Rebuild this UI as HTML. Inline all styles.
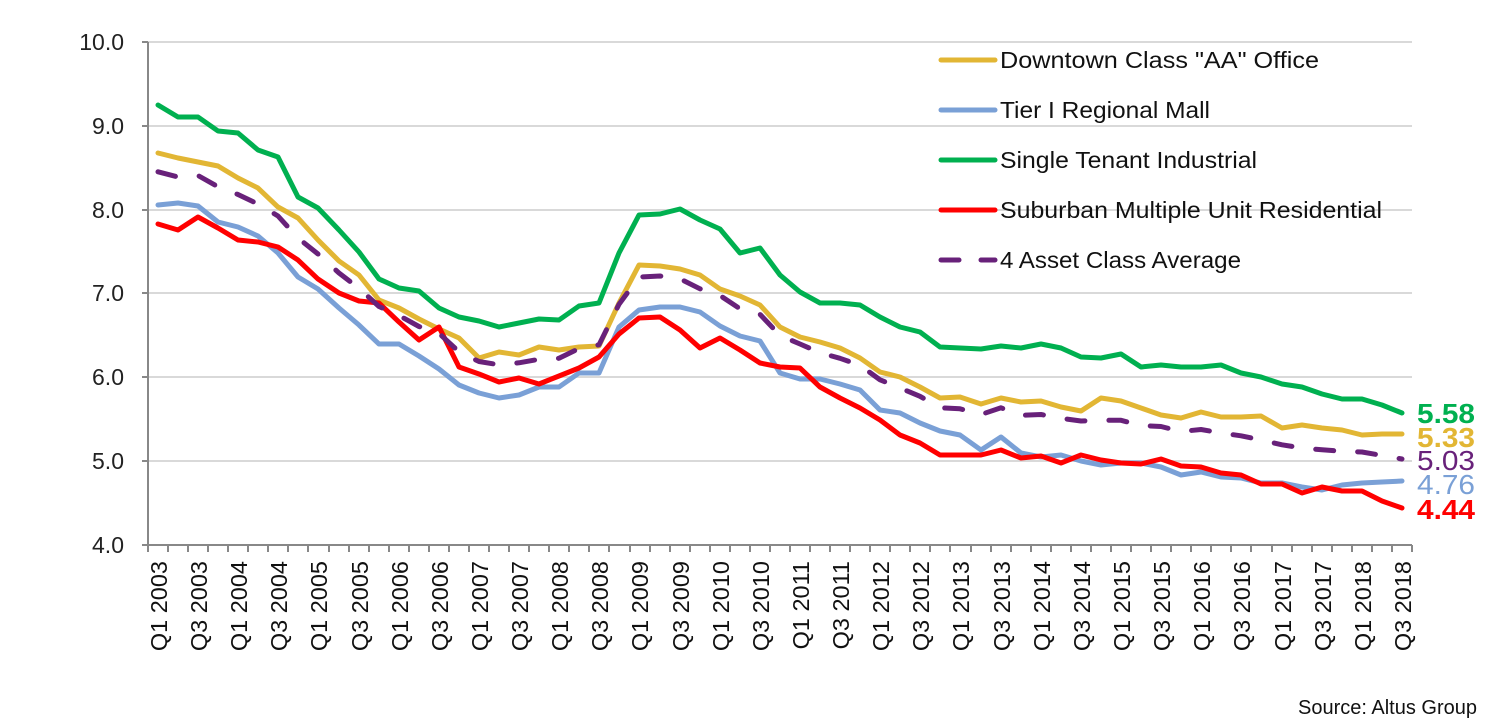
<!DOCTYPE html>
<html><head><meta charset="utf-8"><style>
html,body{margin:0;padding:0;background:#fff;}
svg{display:block;font-family:"Liberation Sans",Arial,sans-serif;}
</style></head><body>
<svg width="1512" height="724" viewBox="0 0 1512 724" xmlns="http://www.w3.org/2000/svg">
<g stroke="#d9d9d9" stroke-width="2">
<line x1="148" y1="42" x2="1412" y2="42"/><line x1="148" y1="126" x2="1412" y2="126"/><line x1="148" y1="210" x2="1412" y2="210"/><line x1="148" y1="293" x2="1412" y2="293"/><line x1="148" y1="377" x2="1412" y2="377"/><line x1="148" y1="461" x2="1412" y2="461"/>
</g>
<g stroke="#888" stroke-width="2" fill="none">
<line x1="148" y1="42" x2="148" y2="546"/><line x1="147" y1="545" x2="1412" y2="545"/>
<path d="M142 42H148M142 126H148M142 210H148M142 293H148M142 377H148M142 461H148M142 545H148"/>
<path d="M148 545v7M168 545v7M188 545v7M208 545v7M228 545v7M248 545v7M268 545v7M288 545v7M308 545v7M329 545v7M349 545v7M369 545v7M389 545v7M409 545v7M429 545v7M449 545v7M469 545v7M489 545v7M509 545v7M529 545v7M549 545v7M569 545v7M589 545v7M609 545v7M630 545v7M650 545v7M670 545v7M690 545v7M710 545v7M730 545v7M750 545v7M770 545v7M790 545v7M810 545v7M830 545v7M850 545v7M870 545v7M890 545v7M910 545v7M930 545v7M950 545v7M971 545v7M991 545v7M1011 545v7M1031 545v7M1051 545v7M1071 545v7M1091 545v7M1111 545v7M1131 545v7M1151 545v7M1171 545v7M1191 545v7M1211 545v7M1231 545v7M1251 545v7M1272 545v7M1292 545v7M1312 545v7M1332 545v7M1352 545v7M1372 545v7M1392 545v7M1412 545v7"/>
</g>
<g font-size="23" fill="#222" text-anchor="end">
<text x="124" y="50">10.0</text><text x="124" y="134">9.0</text><text x="124" y="218">8.0</text><text x="124" y="301">7.0</text><text x="124" y="385">6.0</text><text x="124" y="469">5.0</text><text x="124" y="553">4.0</text>
</g>
<g font-size="23.5" fill="#111" text-anchor="end">
<text transform="translate(167,561) rotate(-90)">Q1 2003</text>
<text transform="translate(207,561) rotate(-90)">Q3 2003</text>
<text transform="translate(247,561) rotate(-90)">Q1 2004</text>
<text transform="translate(287,561) rotate(-90)">Q3 2004</text>
<text transform="translate(327,561) rotate(-90)">Q1 2005</text>
<text transform="translate(368,561) rotate(-90)">Q3 2005</text>
<text transform="translate(408,561) rotate(-90)">Q1 2006</text>
<text transform="translate(448,561) rotate(-90)">Q3 2006</text>
<text transform="translate(488,561) rotate(-90)">Q1 2007</text>
<text transform="translate(528,561) rotate(-90)">Q3 2007</text>
<text transform="translate(568,561) rotate(-90)">Q1 2008</text>
<text transform="translate(608,561) rotate(-90)">Q3 2008</text>
<text transform="translate(648,561) rotate(-90)">Q1 2009</text>
<text transform="translate(689,561) rotate(-90)">Q3 2009</text>
<text transform="translate(729,561) rotate(-90)">Q1 2010</text>
<text transform="translate(769,561) rotate(-90)">Q3 2010</text>
<text transform="translate(809,561) rotate(-90)">Q1 2011</text>
<text transform="translate(849,561) rotate(-90)">Q3 2011</text>
<text transform="translate(889,561) rotate(-90)">Q1 2012</text>
<text transform="translate(929,561) rotate(-90)">Q3 2012</text>
<text transform="translate(969,561) rotate(-90)">Q1 2013</text>
<text transform="translate(1010,561) rotate(-90)">Q3 2013</text>
<text transform="translate(1050,561) rotate(-90)">Q1 2014</text>
<text transform="translate(1090,561) rotate(-90)">Q3 2014</text>
<text transform="translate(1130,561) rotate(-90)">Q1 2015</text>
<text transform="translate(1170,561) rotate(-90)">Q3 2015</text>
<text transform="translate(1210,561) rotate(-90)">Q1 2016</text>
<text transform="translate(1250,561) rotate(-90)">Q3 2016</text>
<text transform="translate(1291,561) rotate(-90)">Q1 2017</text>
<text transform="translate(1331,561) rotate(-90)">Q3 2017</text>
<text transform="translate(1371,561) rotate(-90)">Q1 2018</text>
<text transform="translate(1411,561) rotate(-90)">Q3 2018</text>
</g>
<g fill="none" stroke-width="5" stroke-linejoin="round" stroke-linecap="round">
<polyline stroke="#e2b634" points="158,153 178,158 198,162 218,166 238,178 258,188 278,207 298,218 318,240 339,261 359,275 379,300 399,308 419,319 439,329 459,338 479,358 499,352 519,355 539,347 559,350 579,347 599,346 619,303 639,265 660,266 680,269 700,275 720,289 740,296 760,305 780,327 800,337 820,342 840,348 860,358 880,372 900,377 920,387 940,398 960,397 981,404 1001,398 1021,402 1041,401 1061,407 1081,411 1101,398 1121,401 1141,408 1161,415 1181,418 1201,412 1221,417 1241,417 1261,416 1282,428 1302,425 1322,428 1342,430 1362,435 1382,434 1402,434"/>
<polyline stroke="#7aa0d6" points="158,205 178,203 198,206 218,222 238,227 258,236 278,253 298,277 318,289 339,308 359,325 379,344 399,344 419,356 439,369 459,385 479,393 499,398 519,395 539,387 559,387 579,373 599,373 619,327 639,310 660,307 680,307 700,312 720,326 740,336 760,341 780,373 800,379 820,379 840,384 860,390 880,410 900,413 920,423 940,431 960,435 981,450 1001,437 1021,453 1041,457 1061,455 1081,461 1101,465 1121,463 1141,463 1161,467 1181,475 1201,472 1221,477 1241,478 1261,483 1282,483 1302,487 1322,490 1342,485 1362,483 1382,482 1402,481"/>
<polyline stroke="#00b050" points="158,105 178,117 198,117 218,131 238,133 258,150 278,157 298,197 318,208 339,230 359,252 379,279 399,288 419,291 439,308 459,317 479,321 499,327 519,323 539,319 559,320 579,306 599,303 619,253 639,215 660,214 680,209 700,220 720,229 740,253 760,248 780,275 800,292 820,303 840,303 860,305 880,317 900,327 920,332 940,347 960,348 981,349 1001,346 1021,348 1041,344 1061,348 1081,357 1101,358 1121,354 1141,367 1161,365 1181,367 1201,367 1221,365 1241,373 1261,377 1282,384 1302,387 1322,394 1342,399 1362,399 1382,405 1402,413"/>
<polyline stroke="#ff0000" points="158,224 178,230 198,217 218,228 238,240 258,242 278,247 298,260 318,279 339,293 359,301 379,303 399,322 419,340 439,327 459,367 479,374 499,382 519,378 539,384 559,376 579,368 599,357 619,334 639,318 660,317 680,330 700,348 720,338 740,350 760,363 780,367 800,368 820,387 840,398 860,408 880,420 900,435 920,443 940,455 960,455 981,455 1001,450 1021,458 1041,456 1061,463 1081,455 1101,460 1121,463 1141,464 1161,459 1181,466 1201,467 1221,473 1241,475 1261,484 1282,484 1302,493 1322,487 1342,491 1362,491 1382,501 1402,508"/>
<polyline stroke="#68217a" stroke-dasharray="18 24" points="158,171.8 178,177 198,175.5 218,186.8 238,194.5 258,204 278,216 298,238 318,254 339,273 359,288.3 379,306.5 399,315.5 419,326.5 439,333.3 459,351.8 479,361.5 499,364.8 519,362.8 539,359.3 559,358.3 579,348.5 599,344.8 619,304.3 639,277 660,276 680,278.8 700,288.8 720,295.5 740,308.8 760,314.3 780,335.5 800,344 820,352.8 840,358.3 860,365.3 880,379.8 900,388 920,396.3 940,407.8 960,408.8 981,414.5 1001,407.8 1021,415.3 1041,414.5 1061,418.3 1081,421 1101,420.3 1121,420.3 1141,425.5 1161,426.5 1181,431.5 1201,429.5 1221,433 1241,435.8 1261,440 1282,444.8 1302,448 1322,449.8 1342,451.3 1362,452 1382,455.5 1402,459"/>
</g>
<g stroke-width="5" stroke-linecap="round">
<line x1="941" y1="60" x2="995" y2="60" stroke="#e2b634"/>
<line x1="941" y1="110" x2="995" y2="110" stroke="#7aa0d6"/>
<line x1="941" y1="160" x2="995" y2="160" stroke="#00b050"/>
<line x1="941" y1="210" x2="995" y2="210" stroke="#ff0000"/>
<line x1="941" y1="260" x2="959" y2="260" stroke="#68217a"/>
<line x1="981" y1="260" x2="995" y2="260" stroke="#68217a"/>
</g>
<g font-size="23" fill="#111">
<text x="1000" y="68" textLength="319" lengthAdjust="spacingAndGlyphs">Downtown Class "AA" Office</text>
<text x="1000" y="118" textLength="210" lengthAdjust="spacingAndGlyphs">Tier I Regional Mall</text>
<text x="1000" y="168" textLength="257" lengthAdjust="spacingAndGlyphs">Single Tenant Industrial</text>
<text x="1000" y="218" textLength="382" lengthAdjust="spacingAndGlyphs">Suburban Multiple Unit Residential</text>
<text x="1000" y="268" textLength="241" lengthAdjust="spacingAndGlyphs">4 Asset Class Average</text>
</g>
<g font-size="28">
<text x="1417" y="423" fill="#00b050" font-weight="bold" textLength="58" lengthAdjust="spacingAndGlyphs">5.58</text>
<text x="1417" y="447" fill="#e2b634" font-weight="bold" textLength="58" lengthAdjust="spacingAndGlyphs">5.33</text>
<text x="1417" y="470" fill="#68217a" textLength="58" lengthAdjust="spacingAndGlyphs">5.03</text>
<text x="1417" y="494" fill="#7aa0d6" textLength="58" lengthAdjust="spacingAndGlyphs">4.76</text>
<text x="1417" y="519" fill="#ff0000" font-weight="bold" textLength="58" lengthAdjust="spacingAndGlyphs">4.44</text>
</g>
<text x="1477" y="714" font-size="20" fill="#111" text-anchor="end">Source: Altus Group</text>
</svg>
</body></html>
